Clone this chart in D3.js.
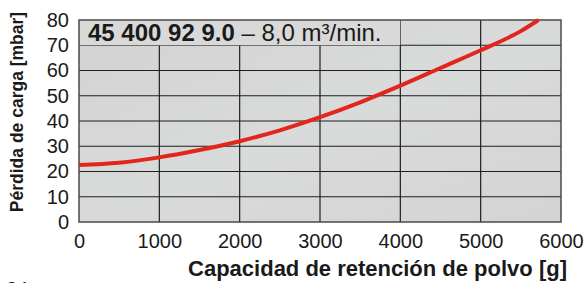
<!DOCTYPE html>
<html>
<head>
<meta charset="utf-8">
<script src="https://cdn.jsdelivr.net/npm/d3@7"></script>
<style>
  html, body { margin: 0; padding: 0; background: #fff; }
  svg { display: block; font-family: "Liberation Sans", Arial, sans-serif; }
</style>
</head>
<body>
<div id="chart"></div>
<script>
// curve: dust retained [g] vs pressure drop [mbar]
const dustGrams = [0, 500, 1000, 1500, 2000, 2500, 3000, 3500, 4000, 4500, 5000, 5500, 5720];
const pressureMbar = [22.6, 23.5, 25.6, 28.5, 32, 36.3, 41.5, 47.4, 54, 61, 68, 75.6, 80];
const xTicks = [0, 1000, 2000, 3000, 4000, 5000, 6000];
const yTicks = [0, 10, 20, 30, 40, 50, 60, 70, 80];

const renderedWidth = 587, renderedHeight = 283;
const margin = { top: 20, right: 26, bottom: 61, left: 79 };
const width = renderedWidth - margin.left - margin.right;
const height = renderedHeight - margin.top - margin.bottom;

const svg = d3.select('#chart').append('svg')
  .attr('width', renderedWidth)
  .attr('height', renderedHeight);

const defs = svg.append('defs');
const bg = defs.append('linearGradient').attr('id', 'bg-grey')
  .attr('x1', 0).attr('y1', 0).attr('x2', 1).attr('y2', 1);
bg.append('stop').attr('offset', 0).attr('stop-color', '#d2d2d2');
bg.append('stop').attr('offset', 0.5).attr('stop-color', '#d9dada');
bg.append('stop').attr('offset', 1).attr('stop-color', '#d4d4d4');

const g = svg.append('g').attr('transform', 'translate(' + margin.left + ',' + margin.top + ')');

const x = d3.scaleLinear().domain([0, 6000]).range([0, width]);
const y = d3.scaleLinear().domain([0, 80]).range([height, 0]);

// background
g.append('rect')
  .attr('width', width).attr('height', height)
  .attr('fill', 'url(#bg-grey)');

// grid
g.append('g')
  .selectAll('line')
  .data(yTicks.slice(1, -1))
  .enter().append('line')
    .attr('x1', 0).attr('x2', width)
    .attr('y1', d => y(d)).attr('y2', d => y(d))
    .attr('stroke', '#1e1e1e').attr('stroke-width', 1.2);

g.append('g')
  .selectAll('line')
  .data(xTicks.slice(1, -1))
  .enter().append('line')
    .attr('x1', d => x(d)).attr('x2', d => x(d))
    .attr('y1', d => d < 4000 ? y(70) : 0).attr('y2', height)
    .attr('stroke', '#1e1e1e').attr('stroke-width', 1.2);

// title box in the top row
g.append('rect')
  .attr('x', 0).attr('y', 0)
  .attr('width', x(4000)).attr('height', y(70))
  .attr('fill', '#d9d9d9');

const title = g.append('text')
  .attr('x', 9).attr('y', y(70) - 4)
  .attr('font-size', 24)
  .attr('fill', '#1a1a1a');
title.append('tspan').attr('font-weight', 'bold').text('45 400 92 9.0');
title.append('tspan').text(' \u2013 8,0 m\u00b3/min.');

// frame
g.append('rect')
  .attr('width', width).attr('height', height)
  .attr('fill', 'none')
  .attr('stroke', '#4a4a4a').attr('stroke-width', 1.5);

// axes labels
g.append('g')
  .attr('transform', 'translate(0,' + height + ')')
  .call(d3.axisBottom(x).tickValues(xTicks).tickSize(0).tickPadding(12).tickFormat(d3.format('d')))
  .call(s => s.select('.domain').remove())
  .selectAll('text')
    .attr('font-size', 20).attr('fill', '#1a1a1a')
    .attr('font-family', '"Liberation Sans", Arial, sans-serif');

g.append('g')
  .call(d3.axisLeft(y).tickValues(yTicks).tickSize(0).tickPadding(10))
  .call(s => s.select('.domain').remove())
  .selectAll('text')
    .attr('font-size', 20).attr('fill', '#1a1a1a')
    .attr('font-family', '"Liberation Sans", Arial, sans-serif');

// curve
const line = d3.line()
  .x((d, i) => x(dustGrams[i]))
  .y(d => y(d))
  .curve(d3.curveMonotoneX);

g.append('path')
  .datum(pressureMbar)
  .attr('d', line)
  .attr('fill', 'none')
  .attr('stroke', '#e3261d')
  .attr('stroke-width', 4)
  .attr('stroke-linecap', 'butt');

// axis titles
svg.append('text')
  .attr('x', 567).attr('y', 276)
  .attr('text-anchor', 'end')
  .attr('font-size', 22).attr('font-weight', 'bold')
  .attr('fill', '#1a1a1a')
  .text('Capacidad de retención de polvo [g]');

svg.append('text')
  .attr('transform', 'translate(23,' + 112 + ') rotate(-90)')
  .attr('text-anchor', 'middle')
  .attr('font-size', 17.5).attr('font-weight', 'bold')
  .attr('fill', '#1a1a1a')
  .text('Pérdida de carga [mbar]');

// page number, cut off at the bottom edge
svg.append('text')
  .attr('x', 6).attr('y', 296)
  .attr('font-size', 20).attr('fill', '#1a1a1a')
  .text('24');
</script>
</body>
</html>
